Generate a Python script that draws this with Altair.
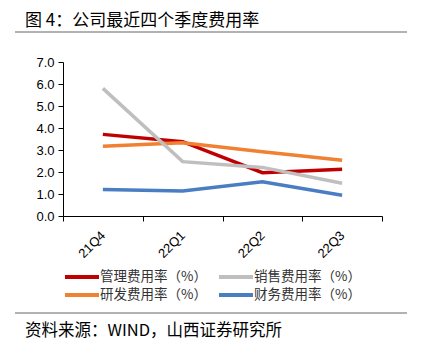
import altair as alt
import pandas as pd

quarters = ["21Q4", "22Q1", "22Q2", "22Q3"]
series_names = ["管理费用率（%）", "研发费用率（%）", "销售费用率（%）", "财务费用率（%）"]
guanli = [3.71, 3.38, 1.97, 2.12]
yanfa = [3.17, 3.33, 2.92, 2.53]
xiaoshou = [5.80, 2.47, 2.21, 1.49]
caiwu = [1.21, 1.14, 1.56, 0.94]
colors = ["#C00000", "#F08133", "#BFBFBF", "#4A7EC2"]

title_text = "图 4：公司最近四个季度费用率"
source_text = "资料来源：WIND，山西证券研究所"

rows = []
for name, vals in zip(series_names, [guanli, yanfa, xiaoshou, caiwu]):
    for q, v in zip(quarters, vals):
        rows.append({"q": q, "s": name, "v": v})
df = pd.DataFrame(rows)

W, H = 319, 154
font = "Liberation Sans"
cjk = "Noto Sans CJK SC"

lines = alt.Chart(df).mark_line(strokeWidth=3.5).encode(
    x=alt.X("q:N", sort=quarters, title=None,
            scale=alt.Scale(paddingInner=0, paddingOuter=0),
            axis=alt.Axis(labelAngle=-45, labelAlign="right", labelBaseline="middle",
                          tickBand="extent", tickSize=5, labelPadding=12,
                          labelFont=font, labelFontSize=13, labelColor="#000",
                          domainColor="#000", tickColor="#000", grid=False)),
    y=alt.Y("v:Q", title=None, scale=alt.Scale(domain=[0, 7]),
            axis=alt.Axis(values=[0, 1, 2, 3, 4, 5, 6, 7], format=".1f", tickSize=5,
                          labelFont=font, labelFontSize=13, labelColor="#000",
                          domainColor="#000", tickColor="#000", grid=False, labelPadding=4)),
    color=alt.Color("s:N", sort=series_names,
                    scale=alt.Scale(domain=series_names, range=colors),
                    legend=alt.Legend(title=None, orient="none", legendX=12, legendY=208,
                                      columns=2, symbolType="M-3.4,0H3.4", symbolSize=100,
                                      symbolStrokeWidth=4, labelFont=cjk, labelFontSize=13.5,
                                      labelColor="#333", columnPadding=4, rowPadding=2,
                                      labelOffset=11)),
)

title = alt.Chart(pd.DataFrame({"t": [title_text]})).mark_text(
    align="left", baseline="middle", font=cjk, fontSize=17, color="#000"
).encode(x=alt.value(-38), y=alt.value(-41), text="t:N")

src = alt.Chart(pd.DataFrame({"t": [source_text]})).mark_text(
    align="left", baseline="middle", font=cjk, fontSize=16.5, color="#000"
).encode(x=alt.value(-38), y=alt.value(269), text="t:N")

rule_top = alt.Chart(pd.DataFrame({"a": [0]})).mark_rule(color="#666", strokeWidth=1.2).encode(
    x=alt.value(-48), x2=alt.value(344), y=alt.value(-30))
rule_bot = alt.Chart(pd.DataFrame({"a": [0]})).mark_rule(color="#666", strokeWidth=1.2).encode(
    x=alt.value(-48), x2=alt.value(344), y=alt.value(251))

chart = alt.layer(lines, title, src, rule_top, rule_bot).properties(
    width=W, height=H, autosize=alt.AutoSizeParams(type="none"),
    padding={"left": 55, "top": 54, "right": 34, "bottom": 135},
    background="white"
).configure_view(stroke="transparent", strokeWidth=0).configure_axis(grid=False)

chart.save("out.html", embed_options={"renderer": "svg", "actions": False})
